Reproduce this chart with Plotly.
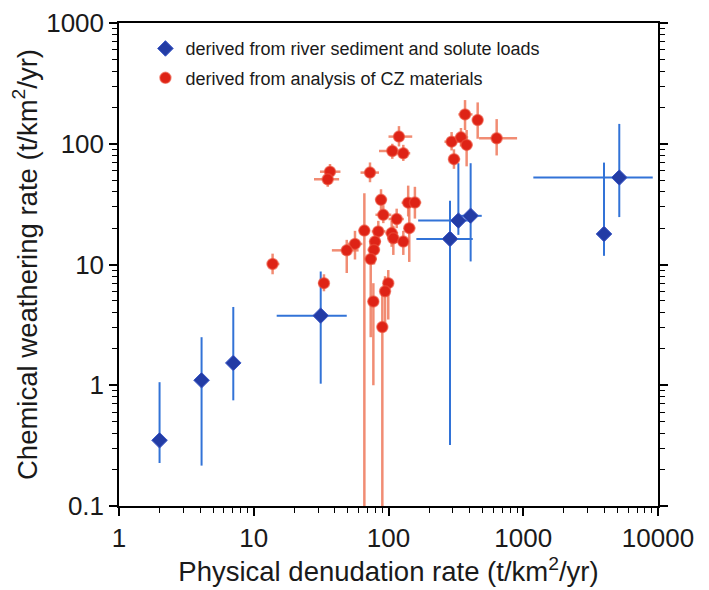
import plotly.graph_objects as go

# ---------- data: river-based (blue diamonds) ----------
river_x    = [2.0, 4.1, 7.05, 31.4, 286, 330, 407, 3975, 5160]
river_y    = [0.35, 1.10, 1.53, 3.77, 16.3, 23.1, 25.3, 17.9, 52.5]
river_xlo  = [1.95, 3.9, 6.8, 14.8, 161, 166, 330, 3900, 1188]
river_xhi  = [2.05, 4.4, 7.3, 49, 422, 407, 492, 4050, 9140]
river_ylo  = [0.227, 0.216, 0.75, 1.03, 0.32, 17.6, 10.6, 11.8, 24.7]
river_yhi  = [1.06, 2.5, 4.45, 8.75, 33.8, 69, 69, 69.8, 146]

# ---------- data: CZ materials (red circles) ----------
cz_x   = [13.8, 33.2, 36.8, 35.4, 72.9, 119.6, 106.7, 128.8, 369.8, 459,
          294, 345, 380, 635, 306, 88, 140, 157, 91.5, 115,
          66.2, 84, 105.6, 142.6, 79.4, 108.6, 128.8, 56.4, 49, 78,
          73.8, 99.6, 94.3, 77.2, 90]
cz_y   = [10.1, 7.0, 58.7, 50.8, 57.7, 114.6, 87.1, 83.4, 175, 157,
          104, 113, 97.8, 111, 74.5, 34.3, 32.5, 32.6, 25.8, 23.8,
          19.1, 18.8, 18.2, 20.0, 15.5, 16.5, 15.5, 14.8, 13.1, 13.2,
          11.1, 7.0, 6.0, 4.94, 3.03]
cz_xlo = [12.5, 30, 31, 28, 62, 100, 85, 115, 330, 420,
          260, 310, 340, 470, 280, 80, 125, 140, 80, 100,
          60, 75, 95, 130, 72, 98, 116, 50, 38, 70,
          66, 92, 87, 70, 82]
cz_xhi = [15.5, 36, 44, 43, 85, 150, 130, 145, 420, 500,
          330, 390, 420, 900, 340, 97, 160, 175, 105, 130,
          73, 95, 118, 158, 88, 120, 142, 64, 60, 86,
          82, 108, 102, 85, 98]
cz_ylo = [8.3, 6.0, 50, 44, 48, 95, 75, 72, 130, 110,
          88, 95, 65, 80, 62, 27, 25, 24, 22, 20,
          0.05, 15, 14, 10.5, 12, 12, 12, 11, 8.5, 10,
          2.5, 3.5, 3.0, 1.0, 0.05]
cz_yhi = [12.3, 8.3, 68, 58, 70, 140, 100, 98, 230, 220,
          125, 135, 130, 160, 90, 42, 45, 44, 31, 29,
          39, 23, 23, 32, 20, 21, 19, 19, 16, 17,
          15, 9.0, 8.0, 7.0, 6.0]

x_tickvals = [1, 10, 100, 1000, 10000]
x_ticktext = ["1", "10", "100", "1000", "10000"]
y_tickvals = [0.1, 1, 10, 100, 1000]
y_ticktext = ["0.1", "1", "10", "100", "1000"]

legend_names = ["derived from river sediment and solute loads",
                "derived from analysis of CZ materials"]


def minus(v, lo):
    return [a - b for a, b in zip(v, lo)]


def plus(v, hi):
    return [b - a for a, b in zip(v, hi)]


fig = go.Figure()

fig.add_trace(go.Scatter(
    x=river_x, y=river_y, mode="markers", name=legend_names[0],
    legendgroup="a",
    marker=dict(symbol="diamond", size=12, color="rgb(35,60,165)",
                line=dict(width=1, color="rgb(60,90,200)")),
    error_x=dict(type="data", symmetric=False, array=plus(river_x, river_xhi),
                 arrayminus=minus(river_x, river_xlo), color="rgb(50,115,215)",
                 thickness=2, width=0),
    error_y=dict(type="data", symmetric=False, array=plus(river_y, river_yhi),
                 arrayminus=minus(river_y, river_ylo), color="rgb(50,115,215)",
                 thickness=2, width=0),
))

fig.add_trace(go.Scatter(
    x=cz_x, y=cz_y, mode="markers", name=legend_names[1],
    legendgroup="b",
    marker=dict(symbol="circle", size=11, color="rgb(222,35,22)",
                line=dict(width=1.5, color="rgba(235,80,60,0.6)")),
    error_x=dict(type="data", symmetric=False, array=plus(cz_x, cz_xhi),
                 arrayminus=minus(cz_x, cz_xlo), color="rgba(238,120,90,0.85)",
                 thickness=2.5, width=0),
    error_y=dict(type="data", symmetric=False, array=plus(cz_y, cz_yhi),
                 arrayminus=minus(cz_y, cz_ylo), color="rgba(238,120,90,0.85)",
                 thickness=2.5, width=0),
))

FONT = "Liberation Sans, Arial, sans-serif"

minor_vals = [m * 10 ** e for e in range(-1, 4) for m in range(2, 10)]

axis_common = dict(
    type="log", showgrid=False, zeroline=False, automargin=False,
    showline=True, linecolor="black", linewidth=1.5,
    ticks="outside", ticklen=8, tickwidth=1.5, tickcolor="black",
    tickfont=dict(family=FONT, size=26, color="#1a1a1a"),
    minor=dict(ticks="outside", ticklen=5, tickwidth=1.2, tickcolor="black",
               tickmode="array", tickvals=minor_vals, showgrid=False),
)

fig.update_xaxes(
    **axis_common, range=[0, 4], tickmode="array",
    tickvals=x_tickvals, ticktext=x_ticktext, mirror=True,
    title=dict(text="Physical denudation rate (t/km<sup>2</sup>/yr)",
               font=dict(family=FONT, size=27.5, color="#1a1a1a"), standoff=0),
)
fig.update_yaxes(
    **axis_common, range=[-1, 3], tickmode="array",
    tickvals=y_tickvals, ticktext=y_ticktext, mirror="ticks",
    title=dict(text="Chemical weathering rate (t/km<sup>2</sup>/yr)",
               font=dict(family=FONT, size=27.5, color="#1a1a1a"), standoff=2),
)

fig.update_layout(
    width=701, height=582,
    margin=dict(l=111, r=51, t=15, b=84),
    paper_bgcolor="white", plot_bgcolor="white",
    showlegend=True,
    legend=dict(x=0.049, y=0.985, xanchor="left", yanchor="top",
                bgcolor="rgba(0,0,0,0)", borderwidth=0,
                font=dict(family=FONT, size=18, color="#1a1a1a"),
                traceorder="grouped", tracegroupgap=3),
)

fig.write_html("out.html")
